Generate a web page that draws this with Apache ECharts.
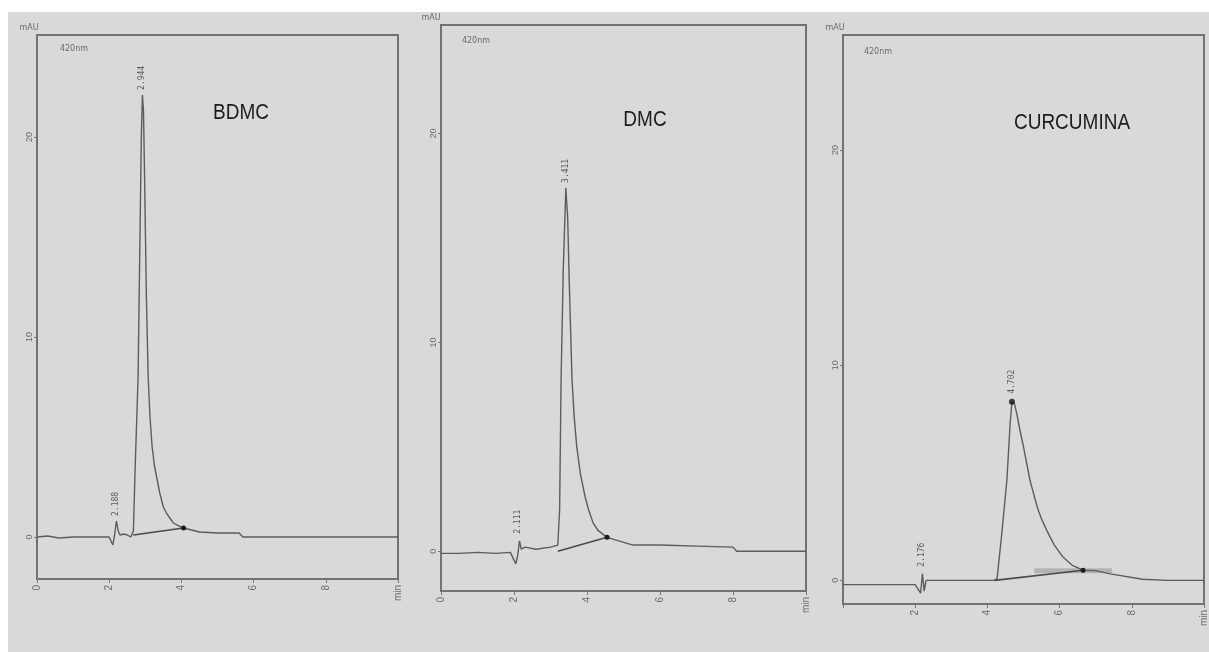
<!DOCTYPE html>
<html><head><meta charset="utf-8">
<script src="https://cdn.jsdelivr.net/npm/echarts@6/dist/echarts.min.js"></script>
<style>
html,body{margin:0;padding:0;background:#fff;width:1209px;height:652px;overflow:hidden}
#bg{position:absolute;left:8px;top:12px;width:1201px;height:640px;background:#d9d9d9}
#c{position:absolute;left:0;top:0;width:1209px;height:652px}
</style></head>
<body><div id="bg"></div><div id="c"></div>
<script>
// ---------- data ----------
const panelTitles = ['BDMC', 'DMC', 'CURCUMINA'];
const unitLabel = 'mAU';
const wavelengthLabel = '420nm';
const xTickValues = [0, 2, 4, 6, 8, 10];
const xTickLabels = ['0', '2', '4', '6', '8', 'min'];
const yTickValues = [0, 10, 20];
const yTickLabels = ['0', '10', '20'];

// BDMC
const p1Time   = [0, 0.3, 0.6, 1.0, 1.5, 2.0, 2.1, 2.15, 2.2, 2.25, 2.3, 2.4, 2.5, 2.6, 2.67, 2.72, 2.8, 2.86, 2.89, 2.92, 2.95, 2.98, 3.03, 3.08, 3.13, 3.19, 3.25, 3.33, 3.4, 3.5, 3.6, 3.78, 3.9, 4.06, 4.5, 5.0, 5.6, 5.7, 7.0, 8.5, 10.0];
const p1Signal = [0, 0.05, -0.05, 0, 0, 0, -0.4, 0.1, 0.8, 0.3, 0.1, 0.15, 0.1, 0.0, 0.3, 3.5, 8.0, 16.0, 20.0, 22.1, 21.3, 18.0, 12.0, 8.0, 6.0, 4.5, 3.6, 2.85, 2.2, 1.5, 1.15, 0.7, 0.58, 0.45, 0.25, 0.2, 0.2, 0.0, 0.0, 0.0, 0.0];
const p1BaseT = [2.67, 4.06];
const p1BaseV = [0.1, 0.45];
const p1PeakT = [2.2, 2.92];
const p1PeakV = [0.8, 22.1];
const p1PeakText = ['2.188', '2.944'];

// DMC
const p2Time   = [0, 0.5, 1.0, 1.5, 1.9, 2.05, 2.1, 2.15, 2.2, 2.3, 2.6, 3.0, 3.2, 3.25, 3.29, 3.35, 3.42, 3.47, 3.52, 3.59, 3.65, 3.72, 3.82, 3.95, 4.05, 4.17, 4.3, 4.55, 5.26, 6.0, 7.0, 8.0, 8.1, 9.0, 10.0];
const p2Signal = [-0.1, -0.1, -0.05, -0.1, -0.05, -0.6, -0.2, 0.5, 0.1, 0.2, 0.1, 0.2, 0.3, 2.0, 8.2, 13.5, 17.4, 16.0, 12.5, 8.2, 6.4, 5.0, 3.7, 2.6, 1.95, 1.35, 1.0, 0.67, 0.3, 0.3, 0.25, 0.2, 0.0, 0.0, 0.0];
const p2BaseT = [3.2, 4.55];
const p2BaseV = [0.0, 0.67];
const p2PeakT = [2.12, 3.42];
const p2PeakV = [0.6, 17.4];
const p2PeakText = ['2.111', '3.411'];

// CURCUMINA
const p3Time   = [0, 0.5, 1.0, 1.5, 2.0, 2.15, 2.2, 2.25, 2.3, 3.0, 3.5, 4.0, 4.2, 4.27, 4.4, 4.54, 4.63, 4.68, 4.75, 4.82, 4.9, 5.0, 5.18, 5.3, 5.4, 5.5, 5.65, 5.85, 6.1, 6.35, 6.65, 7.0, 7.4, 8.3, 9.0, 10.0];
const p3Signal = [-0.2, -0.2, -0.2, -0.2, -0.2, -0.6, 0.3, -0.5, 0, 0, 0, 0, 0, 0.1, 2.2, 4.65, 7.3, 8.3, 8.2, 7.7, 7.0, 6.2, 4.65, 3.9, 3.3, 2.85, 2.3, 1.65, 1.07, 0.7, 0.47, 0.45, 0.3, 0.05, 0, 0];
const p3BaseT = [4.2, 6.65];
const p3BaseV = [0.0, 0.47];
const p3BandT = [5.3, 7.45];
const p3BandV = [0.45, 0.45];
const p3PeakT = [2.2, 4.68];
const p3PeakV = [0.4, 8.3];
const p3PeakText = ['2.176', '4.702'];

// ---------- build ----------
const zip = (a, b) => a.map((x, i) => [x, b[i]]);
const panels = [
  {grid: {left: 37, top: 35, width: 361, height: 544}, ymin: -2.1, ymax: 25.1,
   t: p1Time, v: p1Signal, bt: p1BaseT, bv: p1BaseV, pt: p1PeakT, pv: p1PeakV, ptext: p1PeakText,
   xt: xTickValues, peakDot: false},
  {grid: {left: 441, top: 25, width: 365, height: 566}, ymin: -1.9, ymax: 25.2,
   t: p2Time, v: p2Signal, bt: p2BaseT, bv: p2BaseV, pt: p2PeakT, pv: p2PeakV, ptext: p2PeakText,
   xt: xTickValues, peakDot: false},
  {grid: {left: 843, top: 35, width: 361, height: 569}, ymin: -1.1, ymax: 25.35,
   t: p3Time, v: p3Signal, bt: p3BaseT, bv: p3BaseV, pt: p3PeakT, pv: p3PeakV, ptext: p3PeakText,
   xt: xTickValues.slice(1), peakDot: true, band: [p3BandT, p3BandV]}
];

const grid = [], xAxis = [], yAxis = [], series = [];
panels.forEach((p, i) => {
  grid.push(Object.assign({show: true, borderColor: '#727272', borderWidth: 2, backgroundColor: 'transparent'}, p.grid));
  xAxis.push({
    gridIndex: i, type: 'value', min: 0, max: 10,
    axisLine: {show: false, onZero: false}, splitLine: {show: false},
    axisTick: {show: true, customValues: xTickValues, length: 4, lineStyle: {color: '#777'}},
    axisLabel: {customValues: p.xt, rotate: 90, margin: 6, fontSize: 10, color: '#6a6a6a',
      formatter: v => xTickLabels[xTickValues.indexOf(v)]}
  });
  yAxis.push({
    gridIndex: i, type: 'value', min: p.ymin, max: p.ymax,
    axisLine: {show: false, onZero: false}, splitLine: {show: false},
    axisTick: {show: true, customValues: yTickValues, length: 3, lineStyle: {color: '#777'}},
    axisLabel: {customValues: yTickValues, rotate: 90, margin: 3, fontSize: 9, color: '#6a6a6a',
      formatter: v => yTickLabels[yTickValues.indexOf(v)]}
  });
  if (p.band) {
    series.push({type: 'line', xAxisIndex: i, yAxisIndex: i, data: zip(p.band[0], p.band[1]),
      showSymbol: false, lineStyle: {color: '#b3b3b3', width: 5}, z: 1, silent: true});
  }
  series.push({type: 'line', xAxisIndex: i, yAxisIndex: i, data: zip(p.t, p.v),
    showSymbol: false, lineStyle: {color: '#5c5c5c', width: 1.4}, z: 3, silent: true});
  series.push({type: 'line', xAxisIndex: i, yAxisIndex: i, data: zip(p.bt, p.bv),
    symbol: 'circle', showSymbol: true,
    symbolSize: (val, params) => params.dataIndex === 1 ? 5 : 0,
    itemStyle: {color: '#1a1a1a'},
    lineStyle: {color: '#4a4a4a', width: 1.6}, z: 4, silent: true});
  series.push({type: 'scatter', xAxisIndex: i, yAxisIndex: i, data: zip(p.pt, p.pv),
    symbol: 'circle',
    symbolSize: (val, params) => (p.peakDot && params.dataIndex === 1) ? 6 : 0,
    itemStyle: {color: '#111'},
    label: {show: true, position: 'top', rotate: 90, align: 'left', verticalAlign: 'middle',
      distance: 5, fontSize: 8, color: '#3a3a3a', fontFamily: 'DejaVu Sans Mono',
      formatter: params => p.ptext[params.dataIndex]},
    z: 5, silent: true});
});

const titlePos = [[241, 113], [645, 120], [1072, 123]];
const unitPos = [[29, 28], [431, 18], [835, 28]];
const wlPos = [[74, 49], [476, 41], [878, 52]];
const graphic = [];
panelTitles.forEach((t, i) => {
  graphic.push({type: 'text', x: titlePos[i][0], y: titlePos[i][1], scaleY: 1.2,
    style: {text: t, font: '19px "Liberation Sans", Arial, sans-serif', fill: '#1c1c1c',
      textAlign: 'center', textVerticalAlign: 'middle'}});
  graphic.push({type: 'text', x: unitPos[i][0], y: unitPos[i][1],
    style: {text: unitLabel, font: '8px "DejaVu Sans"', fill: '#6a6a6a',
      textAlign: 'center', textVerticalAlign: 'middle'}});
  graphic.push({type: 'text', x: wlPos[i][0], y: wlPos[i][1],
    style: {text: wavelengthLabel, font: '8px "DejaVu Sans"', fill: '#6a6a6a',
      textAlign: 'center', textVerticalAlign: 'middle'}});
});

const chart = echarts.init(document.getElementById('c'), null, {renderer: 'canvas'});
chart.setOption({
  backgroundColor: 'transparent',
  animation: false,
  grid, xAxis, yAxis, series, graphic
});
</script>
</body></html>
